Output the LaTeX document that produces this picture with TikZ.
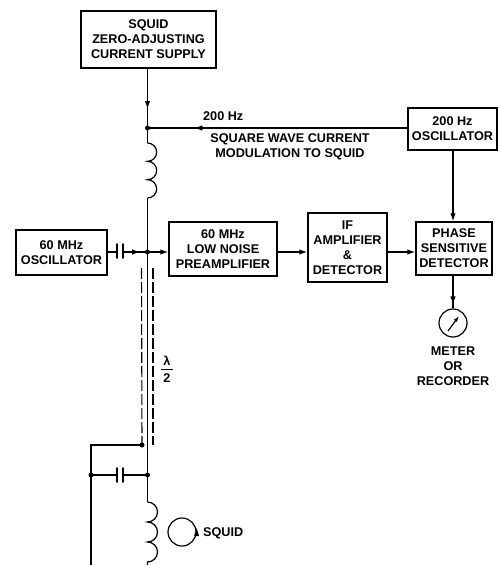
\documentclass[tikz,border=0pt]{standalone}
\usepackage{fontspec}
\setmainfont{Liberation Sans}
\usetikzlibrary{arrows.meta,decorations.markings}
\tikzset{
 x=1bp,y=-1bp,
 box/.style={draw=black,line width=1.5bp,fill=white,align=center,inner sep=0pt,font=\fontsize{12.7}{15}\selectfont\bfseries},
 lab/.style={align=center,inner sep=0pt,font=\fontsize{12.7}{15}\selectfont\bfseries},
 wire/.style={line width=1.2bp,draw=black},
 arr/.style={wire,postaction={decorate},decoration={markings,mark=at position #1 with {\arrow{Latex[length=8bp,width=5.5bp]}}}},
 tipend/.style={wire,-{Latex[length=8bp,width=5.5bp]}},
 dash line/.style={line width=1.1bp,draw=black,dash pattern=on 11bp off 3bp},
 dotn/.style={circle,fill=black,inner sep=0pt,minimum size=5bp},
 platecap/.style={line width=1.9bp,draw=black,line cap=round},
}
\newcommand{\mybox}[6]{\node[box,minimum width=#4bp-#2bp,minimum height=#5bp-#3bp] (#1) at ({(#2+#4)/2},{(#3+#5)/2}) {#6};}
\begin{document}
\begin{tikzpicture}
\useasboundingbox (0,0) rectangle (498,565);
\mybox{sup}{81}{11}{216}{68}{SQUID\\ZERO-ADJUSTING\\CURRENT SUPPLY}
\mybox{osca}{16}{230}{107}{275}{60 MHz\\OSCILLATOR}
\mybox{lna}{169}{222}{277}{276}{60 MHz\\LOW NOISE\\PREAMPLIFIER}
\mybox{ifa}{308}{213}{387}{282}{IF\\AMPLIFIER\\\&\\DETECTOR}
\mybox{psd}{416}{222}{492}{275}{PHASE\\SENSITIVE\\DETECTOR}
\mybox{oscb}{408}{108}{497}{150}{200 Hz\\OSCILLATOR}
\coordinate (j1) at (147.5,128);
\coordinate (c1t) at (147.5,143);
\coordinate (c1b) at (147.5,198);
\coordinate (j2) at (147.5,252);
\coordinate (j3) at (142,445);
\coordinate (cor) at (91,445);
\coordinate (j4) at (91,475);
\coordinate (j5) at (147.5,475);
\coordinate (c2t) at (147.5,502);
\coordinate (c2b) at (147.5,565);
\coordinate (lb) at (91,565);
\coordinate (ca) at (117,252);
\coordinate (cb) at (123,252);
\coordinate (cc) at (117,475);
\coordinate (cd) at (123,475);
% connectors
\draw[arr=0.68] (sup.south -| j1) -- (j1);
\draw[arr=0.82] (oscb.west |- j1) -- (j1);
\draw[wire] (j1) -- (c1t);
\draw[wire] (c1t) arc[start angle=-90,end angle=90,radius=9.17] arc[start angle=-90,end angle=90,radius=9.17] arc[start angle=-90,end angle=90,radius=9.17];
\draw[wire] (c1b) -- (j2);
\draw[wire] (osca.east |- j2) -- (ca);
\draw[platecap] (117,244) -- (117,258);
\draw[platecap] (123,244) -- (123,258);
\draw[arr=0.7] (cb) -- (j2);
\draw[tipend] (j2) -- (lna.west |- j2);
\draw[tipend] (lna.east |- 0,252) -- (ifa.west |- 0,252);
\draw[tipend] (ifa.east |- 0,252) -- (psd.west |- 0,252);
\draw[tipend] (oscb.south -| 453,0) -- (psd.north -| 453,0);
\node[draw=black,circle,line width=1.2bp,minimum size=28bp,inner sep=0pt] (met) at (453,323) {};
\draw[arr=0.88] (psd.south -| met) -- (met.north);
\draw[line width=1.2bp,-{Latex[length=6bp,width=4bp]}] (448,331) -- (459,316);
\node[lab] (metl) at (453,366) {METER\\OR\\RECORDER};
% line
\draw[wire] (j2) -- (j5);
\draw[wire] (j5) -- (c2t);
\draw[wire] (c2t) arc[start angle=-90,end angle=90,radius=10] arc[start angle=-90,end angle=90,radius=10] arc[start angle=-90,end angle=90,radius=10] -- (c2b);
\coordinate (dl) at (141.5,268);
\coordinate (dr) at (153,268);
\coordinate (drb) at (153,445);
\draw[dash line] (dl) -- (j3);
\draw[dash line] (dr) -- (drb);
\draw[wire] (j3) -- (cor) -- (lb);
\draw[wire] (j4) -- (cc);
\draw[platecap] (117,468) -- (117,482);
\draw[platecap] (123,468) -- (123,482);
\draw[wire] (cd) -- (j5);
\foreach \n in {j1,j2,j3,j4,j5} \node[dotn] at (\n) {};
% SQUID loop
\node[draw=black,circle,line width=1.2bp,minimum size=28bp,inner sep=0pt] (loop) at (182,532) {};
\fill (loop.east) +(-2.5,4) -- +(2.5,4) -- +(0,-4) -- cycle;
\node[lab,anchor=west] (sq) at (203,533) {SQUID};
\node[lab,anchor=west] (hz) at (203,116) {200 Hz};
\node[lab] (sqw) at (290,147) {SQUARE WAVE CURRENT\\MODULATION TO SQUID};
\node[lab] (lam) at (167,361) {λ};
\node[lab] (two) at (167,378) {2};
\draw[line width=1.1bp] (161,369.5) -- (173,369.5);
\end{tikzpicture}
\end{document}
